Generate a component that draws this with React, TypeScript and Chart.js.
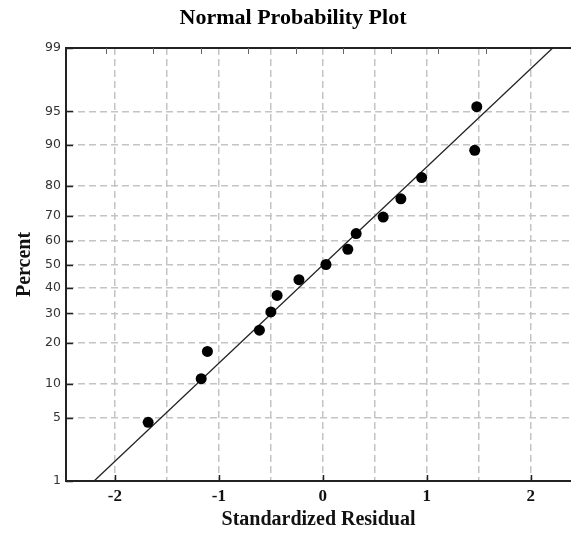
import React, { useEffect, useRef } from "react";
import { Chart, registerables } from "chart.js";

Chart.register(...registerables);

// ---- Data ----
const residuals = [-1.68, -1.17, -1.11, -0.61, -0.5, -0.44, -0.23, 0.03, 0.24, 0.32, 0.58, 0.75, 0.95, 1.46, 1.48];
const percents = [4.5, 11.0, 17.5, 24.0, 30.5, 37.0, 43.5, 50.0, 56.5, 63.0, 69.5, 76.0, 82.5, 89.0, 95.5];
const fitLineX = [-2.2, 2.21];
const fitLinePct = [1, 99];
const yTickPercents = [1, 5, 10, 20, 30, 40, 50, 60, 70, 80, 90, 95, 99];
const xGridValues = [-2, -1.5, -1, -0.5, 0, 0.5, 1, 1.5, 2];
const xMajorTicks = [-2, -1, 0, 1, 2];
const topTickValues = [0, 1, 2, 3, 4, 5, 6, 7, 8];

// inverse standard normal CDF (probability-scale transform)
function probit(p: number): number {
  const a = [-3.969683028665376e1, 2.209460984245205e2, -2.759285104469687e2, 1.38357751867269e2, -3.066479806614716e1, 2.506628277459239];
  const b = [-5.447609879822406e1, 1.615858368580409e2, -1.556989798598866e2, 6.680131188771972e1, -1.328068155288572e1];
  const c = [-7.784894002430293e-3, -3.223964580411365e-1, -2.400758277161838, -2.549732539343734, 4.374664141464968, 2.938163982698783];
  const d = [7.784695709041462e-3, 3.224671290700398e-1, 2.445134137142996, 3.754408661907416];
  const plow = 0.02425;
  const phigh = 1 - plow;
  if (p < plow) {
    const q = Math.sqrt(-2 * Math.log(p));
    return (((((c[0] * q + c[1]) * q + c[2]) * q + c[3]) * q + c[4]) * q + c[5]) / ((((d[0] * q + d[1]) * q + d[2]) * q + d[3]) * q + 1);
  }
  if (p <= phigh) {
    const q = p - 0.5;
    const r = q * q;
    return ((((((a[0] * r + a[1]) * r + a[2]) * r + a[3]) * r + a[4]) * r + a[5]) * q) / (((((b[0] * r + b[1]) * r + b[2]) * r + b[3]) * r + b[4]) * r + 1);
  }
  const q = Math.sqrt(-2 * Math.log(1 - p));
  return -(((((c[0] * q + c[1]) * q + c[2]) * q + c[3]) * q + c[4]) * q + c[5]) / ((((d[0] * q + d[1]) * q + d[2]) * q + d[3]) * q + 1);
}

const inwardTicks = {
  id: "inwardTicks",
  afterDraw(chart: any) {
    const { ctx, chartArea, scales } = chart;
    const x = scales.x;
    const y = scales.y;
    const x2 = scales.x2;
    ctx.save();
    ctx.strokeStyle = "#222";
    ctx.lineWidth = 1.5;
    ctx.beginPath();
    xMajorTicks.forEach((v) => {
      const px = Math.round(x.getPixelForValue(v)) + 0.5;
      ctx.moveTo(px, chartArea.bottom);
      ctx.lineTo(px, chartArea.bottom - 6);
    });
    yTickPercents.forEach((p) => {
      const py = Math.round(y.getPixelForValue(probit(p / 100))) + 0.5;
      ctx.moveTo(chartArea.left, py);
      ctx.lineTo(chartArea.left + 7, py);
    });
    ctx.stroke();
    ctx.strokeStyle = "#666";
    ctx.lineWidth = 1;
    ctx.beginPath();
    topTickValues.forEach((v) => {
      const px = Math.round(x2.getPixelForValue(v)) + 0.5;
      ctx.moveTo(px, chartArea.top);
      ctx.lineTo(px, chartArea.top + 6);
    });
    ctx.stroke();
    ctx.restore();
  },
};

export default function App() {
  const canvasRef = useRef<HTMLCanvasElement | null>(null);

  useEffect(() => {
    const canvas = canvasRef.current;
    if (!canvas) return;
    const zMin = probit(0.01);
    const zMax = probit(0.99);
    const gridColor = "#c4c4c4";
    const dash = [7, 4];

    const chart = new Chart(canvas, {
      type: "scatter",
      data: {
        datasets: [
          {
            label: "Residuals",
            data: residuals.map((r, i) => ({ x: r, y: probit(percents[i] / 100) })),
            backgroundColor: "#000",
            borderColor: "#000",
            borderWidth: 0,
            pointRadius: 5.5,
            pointHoverRadius: 5.5,
            xAxisID: "x",
            yAxisID: "y",
          },
          {
            label: "Fit",
            data: fitLineX.map((v, i) => ({ x: v, y: probit(fitLinePct[i] / 100) })),
            showLine: true,
            borderColor: "#222",
            borderWidth: 1.3,
            pointRadius: 0,
            pointHoverRadius: 0,
            xAxisID: "x",
            yAxisID: "y",
          },
        ],
      },
      options: {
        responsive: false,
        animation: false,
        events: [],
        layout: { autoPadding: false, padding: { left: 15, right: 0, top: 0, bottom: 0 } },
        plugins: {
          legend: { display: false },
          tooltip: { enabled: false },
          title: {
            display: true,
            text: "Normal Probability Plot",
            color: "#000",
            font: { family: "'Liberation Serif', 'Times New Roman', serif", size: 22, weight: "bold", lineHeight: 1.2 },
            padding: { top: 5, bottom: 16.6 },
          },
        },
        scales: {
          x: {
            type: "linear",
            position: "bottom",
            min: -2.47,
            max: 2.386,
            afterBuildTicks: (scale: any) => {
              scale.ticks = xGridValues.map((v) => ({ value: v }));
            },
            afterFit: (scale: any) => {
              scale.height = 52;
              scale.paddingLeft = 0;
              scale.paddingRight = 0;
            },
            ticks: {
              autoSkip: false,
              maxRotation: 0,
              padding: 5,
              color: "#111",
              font: { family: "'Liberation Serif', 'Times New Roman', serif", size: 17, weight: "bold", lineHeight: 1.2 },
              callback: (value: any) => {
                const v = Number(value);
                return Math.abs(v - Math.round(v)) < 1e-9 ? String(Math.round(v)) : "";
              },
            },
            grid: { color: gridColor, lineWidth: 1.5, drawTicks: false, borderDash: dash } as any,
            border: { display: true, color: "#222", width: 2, dash: dash },
            title: {
              display: true,
              text: "Standardized Residual",
              color: "#111",
              font: { family: "'Liberation Serif', 'Times New Roman', serif", size: 20, weight: "bold", lineHeight: 1.2 },
              padding: { top: 0, bottom: 1 },
            },
          },
          x2: {
            type: "linear",
            position: "top",
            min: -0.842,
            max: 9.79,
            afterFit: (scale: any) => {
              scale.height = 0;
              scale.paddingLeft = 0;
              scale.paddingRight = 0;
            },
            ticks: { display: false },
            grid: { display: false, drawTicks: false },
            border: { display: true, color: "#222", width: 2 },
          },
          y: {
            type: "linear",
            position: "left",
            min: zMin,
            max: zMax,
            afterBuildTicks: (scale: any) => {
              scale.ticks = yTickPercents.map((p) => ({ value: probit(p / 100) }));
            },
            afterFit: (scale: any) => {
              scale.width = 51;
            },
            ticks: {
              autoSkip: false,
              padding: 5,
              color: "#333",
              font: { family: "'DejaVu Sans', Verdana, sans-serif", size: 12.5 },
              callback: (_value: any, index: number) => String(yTickPercents[index]),
            },
            grid: { color: gridColor, lineWidth: 1.5, drawTicks: false, borderDash: dash } as any,
            border: { display: true, color: "#222", width: 2, dash: dash },
            title: {
              display: true,
              text: "Percent",
              color: "#111",
              font: { family: "'Liberation Serif', 'Times New Roman', serif", size: 20, weight: "bold", lineHeight: 1 },
              padding: { top: 0, bottom: 0 },
            },
          },
        },
      },
      plugins: [inwardTicks],
    } as any);

    return () => {
      chart.destroy();
    };
  }, []);

  return (
    <div style={{ position: "absolute", left: 0, top: 0, width: 571, height: 533, background: "#fff", overflow: "hidden" }}>
      <canvas ref={canvasRef} width={571} height={533} style={{ display: "block", width: 571, height: 533 }} />
    </div>
  );
}
